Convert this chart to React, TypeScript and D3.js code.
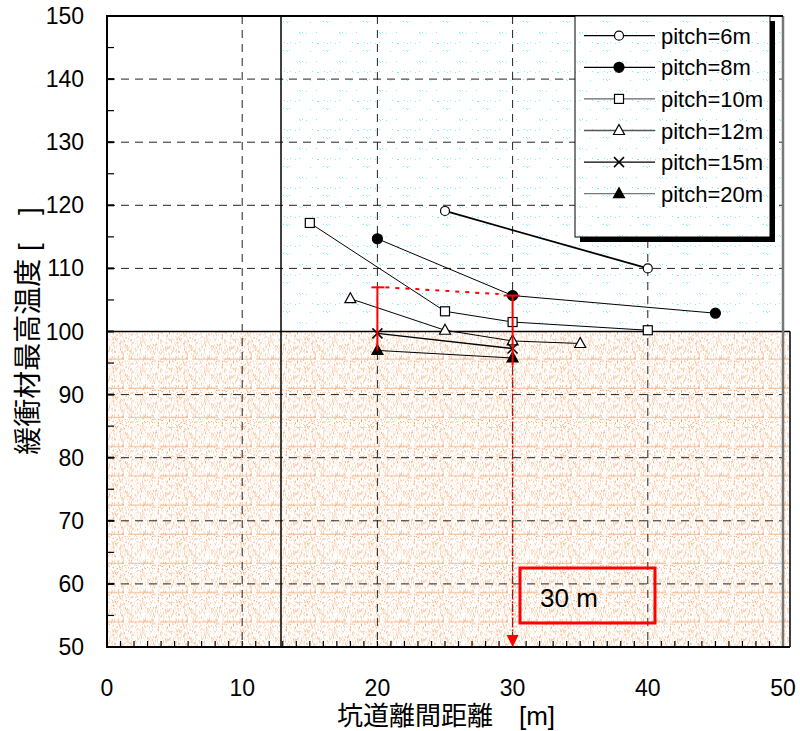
import React from "react";
import * as d3 from "d3";

// Axis ticks
const xTicks = [0, 10, 20, 30, 40, 50];
const yTicks = [50, 60, 70, 80, 90, 100, 110, 120, 130, 140, 150];

// Series: tunnel spacing [m] vs peak buffer temperature
const pitchNames = ["pitch=6m", "pitch=8m", "pitch=10m", "pitch=12m", "pitch=15m", "pitch=20m"];
const pitch6X = [25, 40];
const pitch6Y = [119.1, 110.0];
const pitch8X = [20, 30, 45];
const pitch8Y = [114.7, 105.7, 102.9];
const pitch10X = [15, 25, 30, 40];
const pitch10Y = [117.2, 103.2, 101.5, 100.2];
const pitch12X = [18, 25, 30, 35];
const pitch12Y = [105.2, 100.2, 98.5, 98.1];
const pitch15X = [20, 30];
const pitch15Y = [99.7, 97.3];
const pitch20X = [20, 30];
const pitch20Y = [97.0, 95.8];

// Threshold and annotation values
const limitTemp = 100;
const rangeX = 20;
const rangeTop = 107;
const rangeBottom = 97.0;
const chosenX = 30;
const chosenY = 105.7;
const chosenLabel = "30 m";

const markerKinds = ["circleOpen", "circleFilled", "square", "triangleOpen", "cross", "triangleFilled"];
const lineWidths = [1.8, 1, 1, 1, 1.4, 1];
const legendLineColors = ["#000", "#000", "#666", "#555", "#000", "#777"];

const seriesX = [pitch6X, pitch8X, pitch10X, pitch12X, pitch15X, pitch20X];
const seriesY = [pitch6Y, pitch8Y, pitch10Y, pitch12Y, pitch15Y, pitch20Y];

const FONT = "'Liberation Sans', Arial, 'Noto Sans CJK JP', sans-serif";

// integer hash used to scatter texture dots
function hash(i: number, j: number, s: number) {
  let h = Math.imul(i, 92837111) ^ Math.imul(j, 689287499) ^ Math.imul(s + 1, 283923481);
  h = Math.imul(h ^ (h >>> 15), 0x2c1b3c6d);
  h = Math.imul(h ^ (h >>> 12), 0x297a2d39);
  h ^= h >>> 15;
  return (h >>> 0) / 4294967296;
}

function Marker({ kind, cx, cy }: { kind: string; cx: number; cy: number }) {
  const sw = 1.2;
  switch (kind) {
    case "circleOpen":
      return <circle cx={cx} cy={cy} r={4.5} fill="#fff" stroke="#000" strokeWidth={sw} />;
    case "circleFilled":
      return <circle cx={cx} cy={cy} r={5} fill="#000" stroke="#000" strokeWidth={sw} />;
    case "square":
      return <rect x={cx - 4.5} y={cy - 4.5} width={9} height={9} fill="#fff" stroke="#000" strokeWidth={sw} />;
    case "triangleOpen":
      return (
        <path
          d={`M${cx},${cy - 6}L${cx + 5.5},${cy + 4}L${cx - 5.5},${cy + 4}Z`}
          fill="#fff"
          stroke="#000"
          strokeWidth={sw}
        />
      );
    case "triangleFilled":
      return (
        <path
          d={`M${cx},${cy - 6}L${cx + 5.5},${cy + 4}L${cx - 5.5},${cy + 4}Z`}
          fill="#000"
          stroke="#000"
          strokeWidth={sw}
        />
      );
    case "cross":
      return (
        <path
          d={`M${cx - 5},${cy - 5}L${cx + 5},${cy + 5}M${cx - 5},${cy + 5}L${cx + 5},${cy - 5}`}
          stroke="#000"
          strokeWidth={1.5}
          fill="none"
        />
      );
    default:
      return null;
  }
}

export default function App() {
  const left = 107;
  const right = 783;
  const top = 16;
  const bottom = 647;
  const x = d3.scaleLinear().domain([0, 50]).range([left, right]);
  const y = d3.scaleLinear().domain([50, 150]).range([bottom, top]);
  const line = d3.line<[number, number]>().x((d) => x(d[0])).y((d) => y(d[1]));

  const y100 = y(limitTemp);
  const dividerX = 281;
  const stippleRight = 790;

  // stipple texture cells
  const pw = 64;
  const ph = 29.2;
  const orangeDots: JSX.Element[] = [];
  const oranges = ["#f8c29a", "#fcdcc4", "#f4a468", "#fbd0ae", "#fde8d8"];
  for (let i = 0; i < pw; i++) {
    for (let j = 0; j < Math.floor(ph); j++) {
      const r = hash(i, j, 1);
      if (r < 0.26) {
        const c = oranges[Math.floor(hash(i, j, 2) * oranges.length)];
        orangeDots.push(<rect key={`o${i}-${j}`} x={i} y={j} width={1} height={1} fill={c} />);
      }
    }
  }
  const cyanDots: JSX.Element[] = [];
  const cyanRows = [3, 13, 21];
  cyanRows.forEach((ry, k) => {
    for (let i = 0; i < 40; i++) {
      if (hash(i, k, 5) < 0.16) {
        cyanDots.push(
          <rect key={`c${k}-${i}`} x={i} y={ry + (hash(i, k, 7) < 0.5 ? 0 : 1)} width={1} height={1} fill="#7feef4" />
        );
      }
    }
  });

  const xMinor = d3.range(1, 50, 1);
  const yMinor = d3.range(55, 150, 10);

  const legX = 575;
  const legY = 16;
  const legW = 195;
  const legH = 221;
  const rowY = (i: number) => 35.7 + i * 31.6;

  return (
    <svg
      width={800}
      height={731}
      style={{ position: "absolute", left: 0, top: 0, background: "#fff" }}
      fontFamily={FONT}
    >
      <defs>
        <pattern id="stipple" patternUnits="userSpaceOnUse" width={pw} height={ph} x={0} y={y100}>
          <rect width={pw} height={ph} fill="#fff" />
          {orangeDots}
          <line x1={0} x2={pw} y1={27.5} y2={27.5} stroke="#f4b07e" strokeWidth={1} strokeDasharray="26,6" />
        </pattern>
        <pattern id="cyan" patternUnits="userSpaceOnUse" width={40} height={29} x={dividerX} y={0}>
          <rect width={40} height={29} fill="#fff" />
          {cyanDots}
        </pattern>
      </defs>

      {/* upper region texture */}
      <rect x={dividerX} y={top} width={right - dividerX} height={y100 - top} fill="url(#cyan)" />
      {/* region below the temperature limit */}
      <rect x={left} y={y100} width={stippleRight - left} height={bottom - y100} fill="url(#stipple)" />

      {/* grid */}
      <g stroke="#222" strokeWidth={1} strokeDasharray="8,6">
        {xTicks.slice(1, -1).map((t) => (
          <line key={`gx${t}`} x1={x(t)} x2={x(t)} y1={top} y2={bottom} />
        ))}
        {yTicks.slice(1, -1).map((t) => (
          <line key={`gy${t}`} x1={left} x2={right} y1={y(t)} y2={y(t)} />
        ))}
      </g>

      {/* region borders */}
      <line x1={left} x2={stippleRight} y1={y100} y2={y100} stroke="#000" strokeWidth={1.5} />
      <line x1={stippleRight} x2={stippleRight} y1={y100} y2={bottom} stroke="#000" strokeWidth={1.5} />
      <line x1={dividerX} x2={dividerX} y1={top} y2={bottom} stroke="#000" strokeWidth={1.5} />

      {/* ticks */}
      <g stroke="#000" strokeWidth={1.2}>
        {xMinor.map((t) => (
          <line key={`mx${t}`} x1={x(t)} x2={x(t)} y1={bottom} y2={bottom - 6} />
        ))}
        {yMinor.map((t) => (
          <line key={`my${t}`} x1={left} x2={left + 7} y1={y(t)} y2={y(t)} />
        ))}
        {yTicks.map((t) => (
          <line key={`My${t}`} x1={left} x2={left + 7} y1={y(t)} y2={y(t)} strokeWidth={2} />
        ))}
      </g>

      {/* frame */}
      <line x1={right} x2={right} y1={top} y2={bottom} stroke="#777" strokeWidth={2.5} />
      <line x1={left - 1} x2={right} y1={top} y2={top} stroke="#000" strokeWidth={2} />
      <line x1={left} x2={left} y1={top} y2={bottom} stroke="#000" strokeWidth={2} />
      <line x1={left - 1} x2={stippleRight} y1={bottom} y2={bottom} stroke="#000" strokeWidth={2} />

      {/* tick labels */}
      <g fontSize={23} fill="#000">
        {xTicks.map((t) => (
          <text key={`tx${t}`} x={x(t)} y={696} textAnchor="middle">
            {t}
          </text>
        ))}
        {yTicks.map((t) => (
          <text key={`ty${t}`} x={84} y={y(t) + 8} textAnchor="end">
            {t}
          </text>
        ))}
      </g>

      {/* axis titles */}
      <text x={446} y={725} textAnchor="middle" fontSize={26}>
        坑道離間距離　[m]
      </text>
      <text transform="translate(38,331) rotate(-90)" textAnchor="middle" fontSize={28}>
        緩衝材最高温度 [　]
      </text>

      {/* series lines */}
      {seriesX.map((xs, si) => (
        <path
          key={`l${si}`}
          d={line(xs.map((v, k) => [v, seriesY[si][k]] as [number, number])) || ""}
          fill="none"
          stroke="#000"
          strokeWidth={lineWidths[si]}
        />
      ))}
      {/* series markers */}
      {seriesX.map((xs, si) =>
        xs.map((v, k) => (
          <Marker key={`m${si}-${k}`} kind={markerKinds[si]} cx={x(v)} cy={y(seriesY[si][k])} />
        ))
      )}

      {/* range bar at 20 m and pointer to 30 m */}
      <g stroke="#f00" fill="none">
        <line x1={x(rangeX)} x2={x(rangeX)} y1={y(rangeTop)} y2={y(rangeBottom)} strokeWidth={2} />
        <line x1={x(rangeX) - 6} x2={x(rangeX) + 7} y1={y(rangeTop)} y2={y(rangeTop)} strokeWidth={2} />
        <line
          x1={x(rangeX) + 8}
          x2={x(chosenX) - 14}
          y1={y(rangeTop)}
          y2={y(chosenY) - 1.5}
          strokeWidth={2}
          strokeDasharray="4,6"
        />
        <line x1={x(chosenX) - 9} x2={x(chosenX) + 7} y1={y(chosenY)} y2={y(chosenY)} strokeWidth={2} />
        <line x1={x(chosenX)} x2={x(chosenX)} y1={y(chosenY)} y2={y(96.2) + 10} strokeWidth={2} />
        <line
          x1={x(chosenX)}
          x2={x(chosenX)}
          y1={y(96.2) + 10}
          y2={bottom - 10}
          strokeWidth={1.5}
          strokeDasharray="2,2"
        />
      </g>
      <path
        d={`M${x(chosenX)},${bottom}L${x(chosenX) - 6},${bottom - 12}L${x(chosenX) + 6},${bottom - 12}Z`}
        fill="#f00"
      />

      {/* callout */}
      <rect x={520} y={568} width={135} height={55} fill="none" stroke="#f00" strokeWidth={3} />
      <text x={540} y={607} fontSize={26} fill="#000">
        {chosenLabel}
      </text>

      {/* legend */}
      <rect x={legX + 5} y={legY + 5} width={legW} height={legH} fill="#000" />
      <rect x={legX} y={legY} width={legW} height={legH} fill="#fff" />
      <rect x={legX} y={legY} width={legW} height={legH} fill="url(#cyan)" stroke="#000" strokeWidth={1} />
      {pitchNames.map((name, i) => (
        <g key={`lg${i}`}>
          <line x1={584} x2={655} y1={rowY(i)} y2={rowY(i)} stroke={legendLineColors[i]} strokeWidth={1.3} />
          <Marker kind={markerKinds[i]} cx={619} cy={rowY(i)} />
          <text x={661} y={rowY(i) + 8} fontSize={22} fill="#000">
            {name}
          </text>
        </g>
      ))}
    </svg>
  );
}
